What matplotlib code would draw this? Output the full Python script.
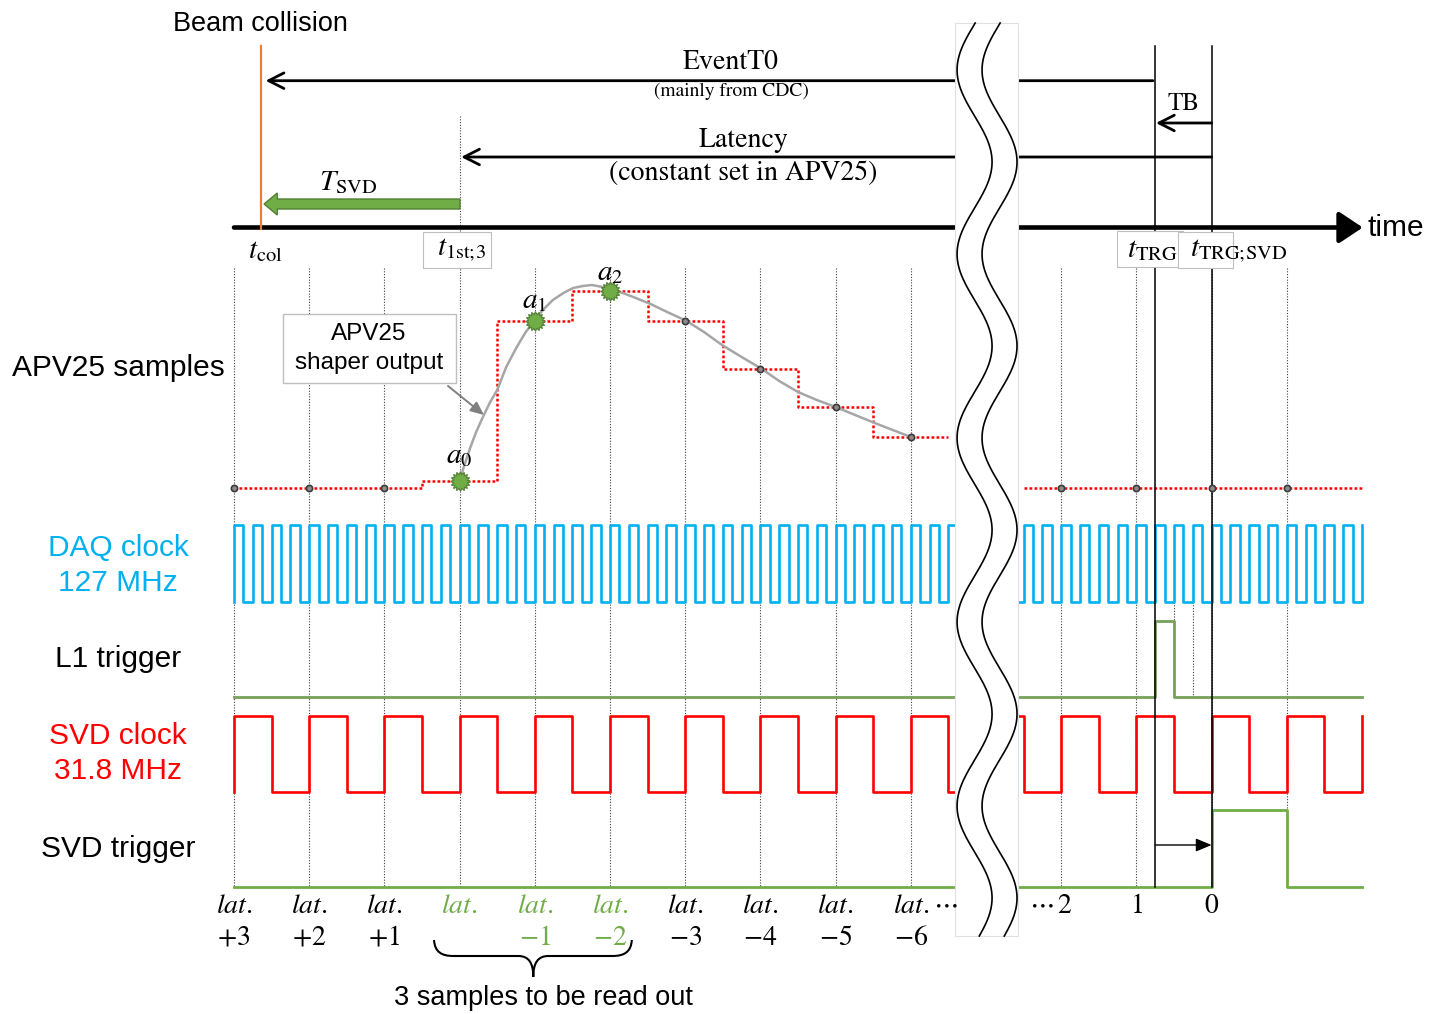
import numpy as np
import matplotlib
matplotlib.use("Agg")
import matplotlib.pyplot as plt
import matplotlib.patches as mpatches
from matplotlib.path import Path

plt.rcParams["mathtext.fontset"] = "stix"
SANS = "Liberation Sans"
SERIF = "STIXGeneral"

# ── colours ─────────────────────────────────────────────
CYAN = "#00B0F0"
RED = "#FF0000"
GREEN = "#70AD47"
GREEN_DK = "#507E32"
L1_GREEN = "#77A05A"
ORANGE = "#ED7D31"
GRID = "#404040"
BOXEDGE = "#BFBFBF"

# ── data (time in units of one SVD clock period) ────────
daq_clock_mhz = 127.0
svd_clock_mhz = 31.8
n_svd_cycles = 15

sample_left_idx = [0, 1, 2, 3, 4, 5, 6, 7, 8, 9]
sample_left_amp = [0, 0, 0, 7, 167, 197, 167, 119, 81, 51]
sample_right_idx = [11, 12, 13, 14]
sample_right_amp = [0, 0, 0, 0]
readout_idx = [3, 4, 5]
readout_names = [r"$a_0$", r"$a_1$", r"$a_2$"]

shaper_t = [3.00, 3.06, 3.14, 3.22, 3.31, 3.40, 3.50, 3.62, 3.76, 3.88, 4.00, 4.12,
            4.24, 4.38, 4.51, 4.64, 4.76, 4.90, 5.03, 5.17, 5.31, 5.54, 5.76, 6.02,
            6.25, 6.49, 6.75, 7.02, 7.25, 7.50, 7.75, 8.00, 8.26, 8.52, 8.76, 9.00]
shaper_amp = [7, 22, 40, 56, 71, 85, 98, 121, 141, 156, 168, 179,
              188, 195, 200, 202, 203, 201, 198, 195, 191, 184, 176, 167,
              156, 143, 131, 119, 107, 96, 88, 81, 73, 65, 58, 51]

lat_idx = [0, 1, 2, 3, 4, 5, 6, 7, 8, 9]
lat_nums = ["+3", "+2", "+1", "", "-1", "-2", "-3", "-4", "-5", "-6"]
right_idx = [12, 13]
right_nums = ["1", "0"]

t_col = 0.36
t_first = 3.0
t_trg = 12.25
t_trg_svd = 13.0
daq_ticks_l1 = 1
svd_trg_cycles = 1
break_span = (9.594, 10.426)

# ── lane layout (pixel rows, y grows downward) ─────────
APV_BASE = 488
LANE_DAQ = (602, 525)
LANE_L1 = (697, 621)
LANE_SVD = (792, 716)
LANE_TRG = (887, 810)
GRID_TOP, GRID_BOT = 268, 887
X0_PX, PERIOD_PX = 234, 75.2


def lane_y(levels, lane):
    low, high = lane
    return low - np.asarray(levels, float) * (low - high)


fig = plt.figure(figsize=(14.29, 10.14), dpi=100)
ax = fig.add_axes([0, 0, 1, 1])
ax.set_xlim(-X0_PX / PERIOD_PX, (1429 - X0_PX) / PERIOD_PX)
ax.set_ylim(1014, 0)
ax.axis("off")

# ── sample grid (dotted) ───────────────────────────────
for i in range(n_svd_cycles):
    top = 116 if i == t_first else GRID_TOP
    ax.plot([i, i], [top, GRID_BOT], color=GRID, lw=0.8, ls=(0, (1, 1.5)), zorder=1)

# ── clocks ─────────────────────────────────────────────
ratio = int(round(daq_clock_mhz / svd_clock_mhz))
daq_t = np.arange(0, n_svd_cycles + 1e-9, 0.5 / ratio)
daq_lv = (np.arange(len(daq_t)) % 2 == 0).astype(float)
ax.plot(np.r_[0, daq_t], lane_y(np.r_[0, daq_lv], LANE_DAQ),
        drawstyle="steps-post", color=CYAN, lw=1.9, zorder=3)

svd_t = np.arange(0, n_svd_cycles + 1e-9, 0.5)
svd_lv = (np.arange(len(svd_t)) % 2 == 0).astype(float)
ax.plot(np.r_[0, svd_t], lane_y(np.r_[0, svd_lv], LANE_SVD),
        drawstyle="steps-post", color=RED, lw=1.9, zorder=3)

# ── triggers ───────────────────────────────────────────
l1_t = [0, t_trg, t_trg + daq_ticks_l1 / ratio, n_svd_cycles]
l1_lv = [0, 1, 0, 0]
ax.plot(l1_t, lane_y(l1_lv, LANE_L1), drawstyle="steps-post", color=L1_GREEN, lw=2.0, zorder=3)
for te in (t_trg + 1 / ratio, t_trg + 2 / ratio):
    ax.plot([te, te], [LANE_DAQ[0], LANE_L1[0]], color=GRID, lw=0.8, ls=(0, (1, 1.5)), zorder=1)

trg_t = [0, t_trg_svd, t_trg_svd + svd_trg_cycles, n_svd_cycles]
trg_lv = [0, 1, 0, 0]
ax.plot(trg_t, lane_y(trg_lv, LANE_TRG), drawstyle="steps-post", color=GREEN, lw=2.0, zorder=3)
ax.annotate("", xy=(t_trg_svd, 845), xytext=(t_trg, 845),
            arrowprops=dict(arrowstyle="-|>,head_length=0.6,head_width=0.25", lw=1.0,
                            color="k", shrinkA=0, shrinkB=0, mutation_scale=16), zorder=4)

# ── APV25 samples ──────────────────────────────────────
lx = sample_left_idx + [sample_left_idx[-1] + 0.5]
ly = sample_left_amp + [sample_left_amp[-1]]
ax.plot(lx, APV_BASE - np.array(ly), drawstyle="steps-mid", color=RED, lw=1.8,
        ls=(0, (1.1, 0.9)), zorder=3)
rx = [sample_right_idx[0] - 0.5] + sample_right_idx + [n_svd_cycles]
ry = [sample_right_amp[0]] + sample_right_amp + [sample_right_amp[-1]]
ax.plot(rx, APV_BASE - np.array(ry), drawstyle="steps-mid", color=RED, lw=1.8,
        ls=(0, (1.1, 0.9)), zorder=3)

ax.plot(shaper_t, APV_BASE - np.array(shaper_amp), color="#A6A6A6", lw=1.8, zorder=4,
        solid_capstyle="round")

dot_idx = [i for i in sample_left_idx if i not in readout_idx]
dot_amp = [sample_left_amp[i] for i in dot_idx]
ax.plot(dot_idx + sample_right_idx, APV_BASE - np.array(dot_amp + sample_right_amp),
        ls="none", marker="o", ms=4.5, mfc="#8C8C8C", mec="#3A3A3A", mew=1.2, zorder=5)

burst = Path.unit_regular_star(16, 0.72)
ro_amp = [sample_left_amp[i] for i in readout_idx]
ax.plot(readout_idx, APV_BASE - np.array(ro_amp), ls="none", marker=burst, ms=14,
        mfc=GREEN, mec=GREEN_DK, mew=0.8, zorder=6)
for i, name, dy in zip(readout_idx, readout_names, (26, 21, 19)):
    ax.text(i, APV_BASE - sample_left_amp[i] - dy, name, fontsize=21,
            ha="center", va="center", zorder=6)

ax.add_patch(mpatches.Rectangle((0.652, 314), 2.30, 69, fc="white", ec=BOXEDGE, lw=1.0, zorder=5))
ax.text(1.795, 334, "APV25", family=SANS, fontsize=17.5, ha="center", va="center", zorder=6)
ax.text(1.795, 363, "shaper output", family=SANS, fontsize=17.5, ha="center", va="center", zorder=6)
ax.annotate("", xy=(3.324, 415), xytext=(2.846, 386),
            arrowprops=dict(arrowstyle="-|>,head_length=0.5,head_width=0.22", lw=1.4,
                            color="#808080", shrinkA=0, shrinkB=0, mutation_scale=16), zorder=6)

# ── top: time axis and intervals ───────────────────────
ax.annotate("", xy=(15.01, 227.5), xytext=(0, 227.5),
            arrowprops=dict(arrowstyle="-|>,head_length=0.72,head_width=0.48", lw=3.3,
                            color="k", shrinkA=0, shrinkB=0, mutation_scale=20), zorder=4)
ax.text(15.07, 228, "time", family=SANS, fontsize=21.5, ha="left", va="center")

ax.plot([t_col, t_col], [46, 229], color=ORANGE, lw=1.6, zorder=5)
ax.text(0.346, 24, "Beam collision", family=SANS, fontsize=19.5, ha="center", va="center")

for tv in (t_trg, t_trg_svd):
    ax.plot([tv, tv], [46, GRID_BOT], color="k", lw=1.1, zorder=4)

arrow_kw = dict(arrowstyle="->,head_length=0.55,head_width=0.28", lw=2.0, color="k",
                shrinkA=0, shrinkB=0, mutation_scale=20)
ax.annotate("", xy=(t_col + 0.06, 80.7), xytext=(t_trg - 0.03, 80.7), arrowprops=arrow_kw, zorder=4)
ax.annotate("", xy=(t_first + 0.02, 157), xytext=(t_trg_svd, 157), arrowprops=arrow_kw, zorder=4)
ax.annotate("", xy=(t_trg + 0.01, 123), xytext=(t_trg_svd, 123), arrowprops=arrow_kw, zorder=4)

ax.text(6.61, 62, "EventT0", family=SERIF, fontsize=20, ha="center", va="center")
ax.text(6.61, 91, "(mainly from CDC)", family=SERIF, fontsize=14, ha="center", va="center")
ax.text(6.77, 140, "Latency", family=SERIF, fontsize=20, ha="center", va="center")
ax.text(6.77, 173, "(constant set in APV25)", family=SERIF, fontsize=20, ha="center", va="center")
ax.text(12.62, 104, "TB", family=SERIF, fontsize=18, ha="center", va="center")

ax.add_patch(mpatches.FancyArrow(t_first + 0.005, 204, -(t_first + 0.005 - 0.40), 0,
                                 width=10, head_width=22, head_length=0.175,
                                 length_includes_head=True, fc=GREEN, ec=GREEN_DK,
                                 lw=1.0, zorder=5))
ax.text(1.52, 182, r"$T_{\mathrm{SVD}}$", fontsize=21, ha="center", va="center")

ax.text(0.41, 250, r"$t_{\mathrm{col}}$", fontsize=21, ha="center", va="center")
ax.add_patch(mpatches.Rectangle((2.51, 232), 0.91, 36, fc="white", ec=BOXEDGE, lw=0.8, zorder=5))
ax.text(3.03, 250, r"$t_{\mathrm{1st;}\!\mathrm{3}}$", fontsize=21, ha="center", va="center", zorder=6)
ax.add_patch(mpatches.Rectangle((11.74, 231), 0.88, 36, fc="white", ec=BOXEDGE, lw=0.8, zorder=5))
ax.text(12.21, 249, r"$t_{\mathrm{TRG}}$", fontsize=21, ha="center", va="center", zorder=6)
ax.add_patch(mpatches.Rectangle((12.55, 232), 0.73, 36, fc="white", ec=BOXEDGE, lw=0.8, zorder=5))
ax.text(12.71, 251, r"$t_{\mathrm{TRG;}\!\mathrm{SVD}}$", fontsize=21, ha="left", va="center", zorder=6)

# ── lane labels ────────────────────────────────────────
for txt, y, col in [("APV25 samples", 368, "k"), ("DAQ clock", 548, CYAN), ("127 MHz", 583, CYAN),
                    ("L1 trigger", 659, "k"), ("SVD clock", 736, RED), ("31.8 MHz", 771, RED),
                    ("SVD trigger", 849, "k")]:
    ax.text(-1.543, y, txt, family=SANS, fontsize=21.5, color=col, ha="center", va="center")

# ── latency labels under the lanes ─────────────────────
for i, num in zip(lat_idx, lat_nums):
    col = GREEN if i in readout_idx else "k"
    ax.text(i, 905, r"$lat.$", fontsize=20, color=col, ha="center", va="center")
    if num:
        ax.text(i, 937, "$" + num + "$", fontsize=20, color=col, ha="center", va="center")
ax.text(9.46, 903, r"$\cdots$", fontsize=20, ha="center", va="center", zorder=12)
ax.text(10.74, 903, r"$\cdots$", fontsize=20, ha="center", va="center", zorder=12)
ax.text(11.04, 905, r"$2$", fontsize=20, ha="center", va="center")
for i, num in zip(right_idx, right_nums):
    ax.text(i, 905, "$" + num + "$", fontsize=20, ha="center", va="center")

brace = Path([(2.66, 940), (2.67, 952), (2.76, 956), (2.92, 956), (3.78, 956),
              (3.92, 956), (3.98, 963), (3.98, 977), (3.98, 963), (4.04, 956), (4.18, 956),
              (5.03, 956), (5.19, 956), (5.28, 952), (5.29, 940)],
             [Path.MOVETO, Path.CURVE4, Path.CURVE4, Path.CURVE4, Path.LINETO,
              Path.CURVE4, Path.CURVE4, Path.CURVE4, Path.CURVE4, Path.CURVE4, Path.CURVE4,
              Path.LINETO, Path.CURVE4, Path.CURVE4, Path.CURVE4])
ax.add_patch(mpatches.PathPatch(brace, fill=False, lw=1.5, ec="k", zorder=4))
ax.text(4.11, 998, "3 samples to be read out", family=SANS, fontsize=19.5, ha="center", va="center")

# ── axis break ─────────────────────────────────────────
b0, b1 = break_span
ax.add_patch(mpatches.Rectangle((b0, 22.7), b1 - b0, 913.3, fc="white", ec="#E0E0E0",
                                lw=0.8, zorder=10))
yy = np.linspace(23, 936, 500)
xw = 9.848 - 0.2327 * np.cos(2 * np.pi * (yy - 70) / 184)
ax.plot(xw, yy, color="k", lw=1.2, zorder=11)
ax.plot(xw + 0.332, yy, color="k", lw=1.2, zorder=11)

fig.savefig("out.png", dpi=100, facecolor="white")
